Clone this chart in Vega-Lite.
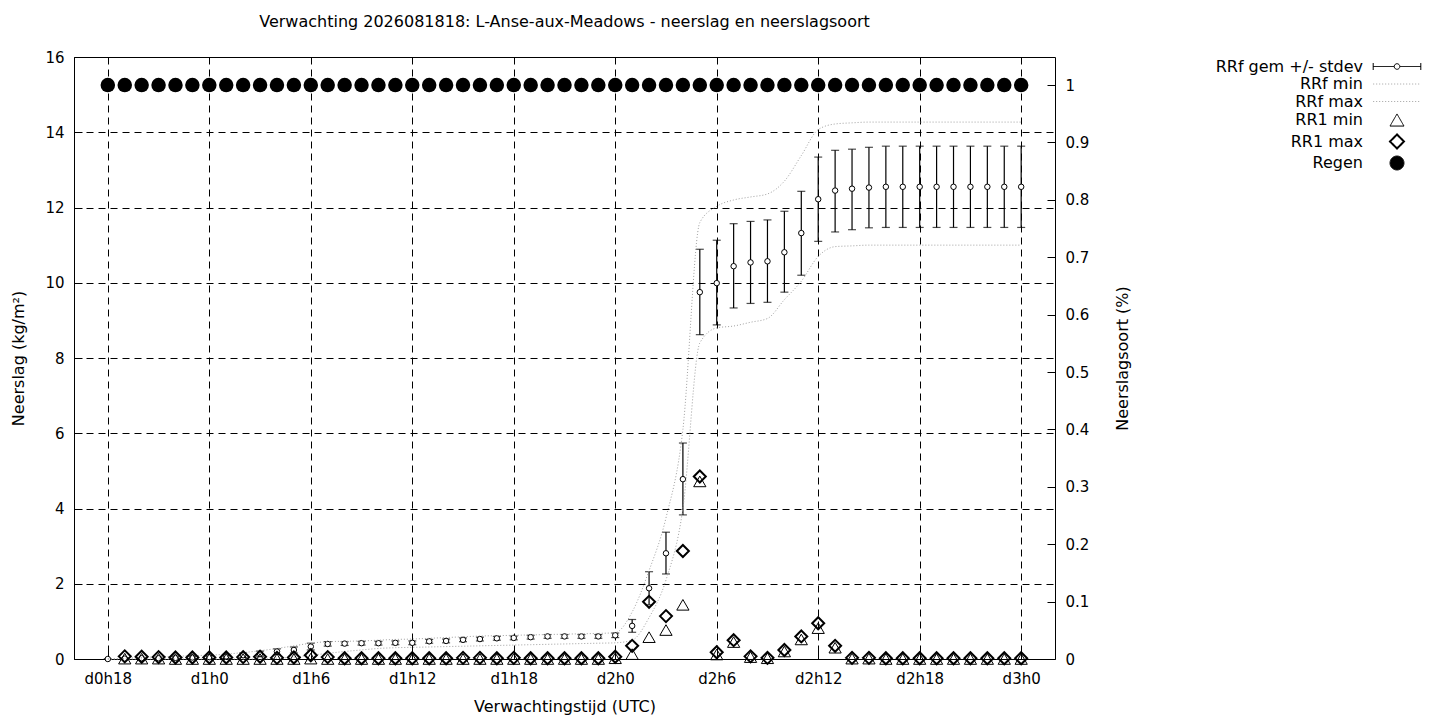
{
"$schema": "https://vega.github.io/schema/vega-lite/v6.json",
"width": 981, "height": 602,
"autosize": {"type": "none"},
"padding": {"left": 74, "top": 57, "right": 385, "bottom": 61},
"background": "white",
"title": {"text": "Verwachting 2026081818: L-Anse-aux-Meadows - neerslag en neerslagsoort", "font": "DejaVu Sans", "fontSize": 16, "fontWeight": "normal", "color": "black", "offset": 20, "anchor": "middle"},
"config": {
  "font": "DejaVu Sans",
  "view": {"stroke": "black", "strokeWidth": 1},
  "axis": {"labelFont": "DejaVu Sans", "labelFontSize": 15, "labelColor": "black", "titleFont": "DejaVu Sans", "titleFontSize": 16, "titleFontWeight": "normal", "titleColor": "black", "domain": false, "tickColor": "black", "tickSize": -8, "labelPadding": 18, "gridColor": "black", "gridDash": [7, 5], "gridOpacity": 1, "gridWidth": 1},
  "legend": {"labelFont": "DejaVu Sans", "labelFontSize": 16, "labelColor": "black"}
},
"data": {"values": [
{"h":18,"gem":0,"lo":0,"hi":0,"fmin":0,"fmax":0,"regen":1},
{"h":19,"gem":0.01,"lo":0,"hi":0.03,"fmin":0,"fmax":0.02,"r1min":0.01,"r1max":0.07,"regen":1},
{"h":20,"gem":0.02,"lo":0,"hi":0.04,"fmin":0,"fmax":0.04,"r1min":0.01,"r1max":0.06,"regen":1},
{"h":21,"gem":0.02,"lo":0,"hi":0.05,"fmin":0,"fmax":0.06,"r1min":0.01,"r1max":0.05,"regen":1},
{"h":22,"gem":0.03,"lo":0,"hi":0.06,"fmin":0,"fmax":0.07,"r1min":0,"r1max":0.04,"regen":1},
{"h":23,"gem":0.04,"lo":0.01,"hi":0.07,"fmin":0,"fmax":0.09,"r1min":0,"r1max":0.04,"regen":1},
{"h":24,"gem":0.05,"lo":0.01,"hi":0.09,"fmin":0,"fmax":0.1,"r1min":0,"r1max":0.04,"regen":1},
{"h":25,"gem":0.07,"lo":0.02,"hi":0.12,"fmin":0,"fmax":0.13,"r1min":0,"r1max":0.04,"regen":1},
{"h":26,"gem":0.1,"lo":0.04,"hi":0.16,"fmin":0,"fmax":0.17,"r1min":0,"r1max":0.05,"regen":1},
{"h":27,"gem":0.14,"lo":0.06,"hi":0.21,"fmin":0,"fmax":0.22,"r1min":0,"r1max":0.06,"regen":1},
{"h":28,"gem":0.2,"lo":0.12,"hi":0.27,"fmin":0.02,"fmax":0.28,"r1min":0,"r1max":0.03,"regen":1},
{"h":29,"gem":0.24,"lo":0.16,"hi":0.32,"fmin":0.05,"fmax":0.35,"r1min":0,"r1max":0.04,"regen":1},
{"h":30,"gem":0.33,"lo":0.24,"hi":0.42,"fmin":0.1,"fmax":0.42,"r1min":0.01,"r1max":0.1,"regen":1},
{"h":31,"gem":0.4,"lo":0.34,"hi":0.46,"fmin":0.15,"fmax":0.46,"r1min":0,"r1max":0.05,"regen":1},
{"h":32,"gem":0.41,"lo":0.36,"hi":0.46,"fmin":0.2,"fmax":0.47,"r1min":0,"r1max":0.02,"regen":1},
{"h":33,"gem":0.42,"lo":0.37,"hi":0.47,"fmin":0.24,"fmax":0.48,"r1min":0,"r1max":0.02,"regen":1},
{"h":34,"gem":0.42,"lo":0.37,"hi":0.47,"fmin":0.28,"fmax":0.5,"r1min":0,"r1max":0.02,"regen":1},
{"h":35,"gem":0.43,"lo":0.38,"hi":0.48,"fmin":0.3,"fmax":0.52,"r1min":0,"r1max":0.02,"regen":1},
{"h":36,"gem":0.43,"lo":0.38,"hi":0.48,"fmin":0.31,"fmax":0.53,"r1min":0,"r1max":0.02,"regen":1},
{"h":37,"gem":0.47,"lo":0.42,"hi":0.52,"fmin":0.32,"fmax":0.55,"r1min":0,"r1max":0.02,"regen":1},
{"h":38,"gem":0.48,"lo":0.43,"hi":0.53,"fmin":0.33,"fmax":0.57,"r1min":0,"r1max":0.02,"regen":1},
{"h":39,"gem":0.51,"lo":0.46,"hi":0.56,"fmin":0.34,"fmax":0.59,"r1min":0,"r1max":0.03,"regen":1},
{"h":40,"gem":0.53,"lo":0.48,"hi":0.58,"fmin":0.35,"fmax":0.61,"r1min":0,"r1max":0.03,"regen":1},
{"h":41,"gem":0.55,"lo":0.5,"hi":0.6,"fmin":0.36,"fmax":0.62,"r1min":0,"r1max":0.02,"regen":1},
{"h":42,"gem":0.56,"lo":0.51,"hi":0.61,"fmin":0.37,"fmax":0.63,"r1min":0,"r1max":0.03,"regen":1},
{"h":43,"gem":0.58,"lo":0.53,"hi":0.63,"fmin":0.38,"fmax":0.64,"r1min":0,"r1max":0.02,"regen":1},
{"h":44,"gem":0.6,"lo":0.55,"hi":0.65,"fmin":0.39,"fmax":0.65,"r1min":0,"r1max":0.02,"regen":1},
{"h":45,"gem":0.6,"lo":0.55,"hi":0.65,"fmin":0.4,"fmax":0.66,"r1min":0,"r1max":0.02,"regen":1},
{"h":46,"gem":0.6,"lo":0.55,"hi":0.65,"fmin":0.41,"fmax":0.67,"r1min":0,"r1max":0.02,"regen":1},
{"h":47,"gem":0.6,"lo":0.55,"hi":0.65,"fmin":0.42,"fmax":0.68,"r1min":0,"r1max":0.02,"regen":1},
{"h":48,"gem":0.63,"lo":0.57,"hi":0.69,"fmin":0.43,"fmax":0.7,"r1min":0.02,"r1max":0.06,"regen":1},
{"h":49,"gem":0.88,"lo":0.71,"hi":1.05,"fmin":0.5,"fmax":1.25,"r1min":0.13,"r1max":0.35,"regen":1},
{"h":50,"gem":1.88,"lo":1.44,"hi":2.32,"fmin":1.1,"fmax":2.35,"r1min":0.58,"r1max":1.52,"regen":1},
{"h":51,"gem":2.81,"lo":2.26,"hi":3.37,"fmin":2.1,"fmax":3.75,"r1min":0.77,"r1max":1.14,"regen":1},
{"h":52,"gem":4.78,"lo":3.83,"hi":5.74,"fmin":4.0,"fmax":6.1,"r1min":1.44,"r1max":2.87,"regen":1},
{"h":53,"gem":9.75,"lo":8.62,"hi":10.89,"fmin":8.4,"fmax":11.6,"r1min":4.72,"r1max":4.85,"regen":1},
{"h":54,"gem":9.99,"lo":8.88,"hi":11.13,"fmin":8.8,"fmax":12.03,"r1min":0.12,"r1max":0.18,"regen":1},
{"h":55,"gem":10.44,"lo":9.33,"hi":11.57,"fmin":8.85,"fmax":12.2,"r1min":0.45,"r1max":0.5,"regen":1},
{"h":56,"gem":10.54,"lo":9.45,"hi":11.63,"fmin":8.95,"fmax":12.28,"r1min":0.05,"r1max":0.07,"regen":1},
{"h":57,"gem":10.57,"lo":9.48,"hi":11.67,"fmin":9.05,"fmax":12.36,"r1min":0.02,"r1max":0.03,"regen":1},
{"h":58,"gem":10.81,"lo":9.75,"hi":11.9,"fmin":9.55,"fmax":12.7,"r1min":0.2,"r1max":0.24,"regen":1},
{"h":59,"gem":11.32,"lo":10.2,"hi":12.43,"fmin":10.04,"fmax":13.38,"r1min":0.52,"r1max":0.6,"regen":1},
{"h":60,"gem":12.22,"lo":11.1,"hi":13.34,"fmin":10.7,"fmax":14.07,"r1min":0.82,"r1max":0.95,"regen":1},
{"h":61,"gem":12.45,"lo":11.35,"hi":13.52,"fmin":10.96,"fmax":14.22,"r1min":0.3,"r1max":0.35,"regen":1},
{"h":62,"gem":12.5,"lo":11.41,"hi":13.55,"fmin":10.98,"fmax":14.25,"r1min":0.01,"r1max":0.03,"regen":1},
{"h":63,"gem":12.53,"lo":11.46,"hi":13.6,"fmin":11.0,"fmax":14.27,"r1min":0.01,"r1max":0.03,"regen":1},
{"h":64,"gem":12.55,"lo":11.47,"hi":13.63,"fmin":11.0,"fmax":14.27,"r1min":0,"r1max":0.02,"regen":1},
{"h":65,"gem":12.55,"lo":11.47,"hi":13.63,"fmin":11.0,"fmax":14.27,"r1min":0,"r1max":0.02,"regen":1},
{"h":66,"gem":12.55,"lo":11.47,"hi":13.63,"fmin":11.0,"fmax":14.27,"r1min":0,"r1max":0.02,"regen":1},
{"h":67,"gem":12.55,"lo":11.47,"hi":13.63,"fmin":11.0,"fmax":14.27,"r1min":0,"r1max":0.02,"regen":1},
{"h":68,"gem":12.55,"lo":11.47,"hi":13.63,"fmin":11.0,"fmax":14.27,"r1min":0,"r1max":0.02,"regen":1},
{"h":69,"gem":12.55,"lo":11.47,"hi":13.63,"fmin":11.0,"fmax":14.27,"r1min":0,"r1max":0.02,"regen":1},
{"h":70,"gem":12.55,"lo":11.47,"hi":13.63,"fmin":11.0,"fmax":14.27,"r1min":0,"r1max":0.02,"regen":1},
{"h":71,"gem":12.55,"lo":11.47,"hi":13.63,"fmin":11.0,"fmax":14.27,"r1min":0,"r1max":0.02,"regen":1},
{"h":72,"gem":12.55,"lo":11.47,"hi":13.63,"fmin":11.0,"fmax":14.27,"r1min":0,"r1max":0.02,"regen":1}
]},
"encoding": {
  "x": {"field": "h", "type": "quantitative", "scale": {"domain": [16, 74], "nice": false, "zero": false},
        "axis": {"title": "Verwachtingstijd (UTC)", "values": [18,24,30,36,42,48,54,60,66,72], "labelExpr": "'d' + floor(datum.value/24) + 'h' + (datum.value % 24)", "grid": true, "titlePadding": 12, "labelPadding": 20}}
},
"layer": [
  {"layer": [
    {"mark": {"type": "rule", "color": "black", "strokeWidth": 1.2},
     "encoding": {"y": {"field": "lo", "type": "quantitative", "scale": {"domain": [0, 16], "nice": false}, "axis": {"title": "Neerslag (kg/m²)", "values": [0,2,4,6,8,10,12,14,16], "grid": true, "titlePadding": 18}}, "y2": {"field": "hi"}}},
    {"mark": {"type": "tick", "orient": "horizontal", "color": "black", "size": 8, "thickness": 1.2},
     "encoding": {"y": {"field": "lo", "type": "quantitative", "scale": {"domain": [0, 16], "nice": false}, "axis": {"title": "Neerslag (kg/m²)", "values": [0,2,4,6,8,10,12,14,16], "grid": true, "titlePadding": 18}}}},
    {"mark": {"type": "tick", "orient": "horizontal", "color": "black", "size": 8, "thickness": 1.2},
     "encoding": {"y": {"field": "hi", "type": "quantitative", "scale": {"domain": [0, 16], "nice": false}, "axis": {"title": "Neerslag (kg/m²)", "values": [0,2,4,6,8,10,12,14,16], "grid": true, "titlePadding": 18}}}},
    {"mark": {"type": "point", "shape": "circle", "filled": false, "fill": "white", "fillOpacity": 1, "stroke": "black", "strokeWidth": 1, "size": 30, "opacity": 1},
     "encoding": {"y": {"field": "gem", "type": "quantitative", "scale": {"domain": [0, 16], "nice": false}, "axis": {"title": "Neerslag (kg/m²)", "values": [0,2,4,6,8,10,12,14,16], "grid": true, "titlePadding": 18}}}},
    {"mark": {"type": "line", "interpolate": "monotone", "stroke": "#a0a0a0", "strokeDash": [1, 2], "strokeWidth": 1},
     "encoding": {"y": {"field": "fmin", "type": "quantitative", "scale": {"domain": [0, 16], "nice": false}, "axis": {"title": "Neerslag (kg/m²)", "values": [0,2,4,6,8,10,12,14,16], "grid": true, "titlePadding": 18}}}},
    {"mark": {"type": "line", "interpolate": "monotone", "stroke": "#a0a0a0", "strokeDash": [1, 2], "strokeWidth": 1},
     "encoding": {"y": {"field": "fmax", "type": "quantitative", "scale": {"domain": [0, 16], "nice": false}, "axis": {"title": "Neerslag (kg/m²)", "values": [0,2,4,6,8,10,12,14,16], "grid": true, "titlePadding": 18}}}},
    {"mark": {"type": "point", "filled": false, "stroke": "black", "strokeWidth": 1, "size": 150, "opacity": 1},
     "encoding": {"y": {"field": "r1min", "type": "quantitative", "scale": {"domain": [0, 16], "nice": false}, "axis": {"title": "Neerslag (kg/m²)", "values": [0,2,4,6,8,10,12,14,16], "grid": true, "titlePadding": 18}},
                  "shape": {"datum": "RR1 min", "type": "nominal",
                            "scale": {"domain": ["RRf gem +/- stdev", "RRf min", "RRf max", "RR1 min", "RR1 max", "Regen"],
                                      "range": ["M-3.4,-0.5V0.5M-3.4,0H-0.4M0.4,0H3.4M3.4,-0.5V0.5M0.4,0A0.4,0.4,0,1,1,-0.4,0A0.4,0.4,0,1,1,0.4,0", "M-3.4,0H3.4", "M-3.4,0H3.4", "triangle-up", "diamond", "circle"]},
                            "legend": {"title": null, "orient": "none", "legendX": 1315, "legendY": 1.5, "padding": 0, "symbolSize": 196, "labelAlign": "right", "labelOffset": -42, "labelLimit": 400, "rowPadding": 1.5,
                                       "encoding": {"symbols": {
                                          "fill": {"value": {"expr": "datum.value === 'Regen' ? 'black' : 'transparent'"}},
                                          "stroke": {"value": {"expr": "(datum.value === 'RRf min' || datum.value === 'RRf max') ? '#a0a0a0' : 'black'"}},
                                          "strokeWidth": {"value": {"expr": "datum.value === 'RR1 max' ? 2 : 1"}},
                                          "strokeDash": {"value": {"expr": "(datum.value === 'RRf min' || datum.value === 'RRf max') ? [1, 2] : [1, 0]"}},
                                          "opacity": {"value": 1}}}}}}},
    {"mark": {"type": "point", "filled": false, "stroke": "black", "strokeWidth": 2, "size": 144, "opacity": 1},
     "encoding": {"y": {"field": "r1max", "type": "quantitative", "scale": {"domain": [0, 16], "nice": false}, "axis": {"title": "Neerslag (kg/m²)", "values": [0,2,4,6,8,10,12,14,16], "grid": true, "titlePadding": 18}},
                  "shape": {"datum": "RR1 max", "type": "nominal"}}}
  ]},
  {"mark": {"type": "point", "filled": true, "fill": "black", "stroke": null, "size": 210, "opacity": 1},
   "encoding": {"y": {"field": "regen", "type": "quantitative", "scale": {"domain": [0, 1.0488], "nice": false}, "axis": {"orient": "right", "title": "Neerslagsoort (%)", "titleAngle": 270, "values": [0,0.1,0.2,0.3,0.4,0.5,0.6,0.7,0.8,0.9,1], "format": "~g", "grid": false, "titlePadding": 42}},
                "shape": {"datum": "Regen", "type": "nominal"}}}
],
"resolve": {"scale": {"y": "independent"}}
}
